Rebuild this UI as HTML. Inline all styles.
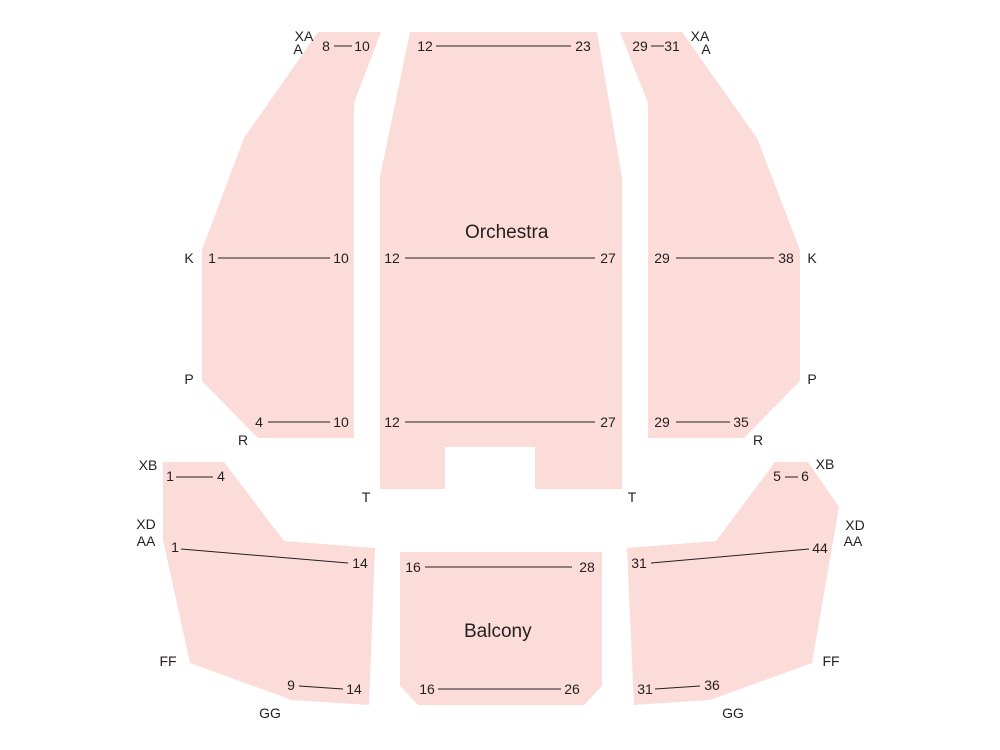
<!DOCTYPE html>
<html><head><meta charset="utf-8"><style>
html,body{margin:0;padding:0;background:#fff;}
svg{display:block;}
text{font-family:"Liberation Sans",sans-serif;font-size:14px;fill:#231f20;}
.big{font-size:19px;}
</style></head><body>
<svg width="1000" height="750" viewBox="0 0 1000 750" xmlns="http://www.w3.org/2000/svg">
<g fill="#fcdcd8">
<polygon points="318,32 381,32 354,103 354,438 258,438 202,381 202,250 244,138"/>
<polygon points="410,32 597,32 622,177 622,489 535,489 535,447 445,447 445,489 380,489 380,177"/>
<polygon points="620,32 682,32 757,138 800,250 800,381 744,438 648,438 648,103"/>
<polygon points="163,462 224,462 284,541 375,548 369,705 292,700 190,663 163,540"/>
<polygon points="627,548 716,541 775,462 808,462 839,507 812,663 710,700 634,705"/>
<polygon points="400,552 602,552 602,686 584,705 418,705 400,686"/>
</g>
<g stroke="#231f20" stroke-width="1">
<line x1="334" y1="46" x2="352" y2="46"/>
<line x1="436" y1="46" x2="571" y2="46"/>
<line x1="651" y1="46" x2="664" y2="46"/>
<line x1="218" y1="258" x2="330" y2="258"/>
<line x1="405" y1="258" x2="595" y2="258"/>
<line x1="676" y1="258" x2="774" y2="258"/>
<line x1="268" y1="422" x2="330" y2="422"/>
<line x1="405" y1="422" x2="595" y2="422"/>
<line x1="676" y1="422" x2="730" y2="422"/>
<line x1="176" y1="477" x2="213" y2="477"/>
<line x1="785" y1="477" x2="798" y2="477"/>
<line x1="181" y1="549" x2="348" y2="563"/>
<line x1="651" y1="563" x2="809" y2="549"/>
<line x1="425" y1="567" x2="572" y2="567"/>
<line x1="438" y1="689" x2="561" y2="689"/>
<line x1="299" y1="686" x2="343" y2="689"/>
<line x1="655" y1="689" x2="700" y2="686"/>
</g>
<text x="465" y="238" class="big" x="456">Orchestra</text>
<text x="464" y="637" class="big">Balcony</text>
<g text-anchor="middle">
<text x="304" y="41">XA</text><text x="298" y="54">A</text>
<text x="326" y="51">8</text><text x="362" y="51">10</text>
<text x="425" y="51">12</text><text x="583" y="51">23</text>
<text x="640" y="51">29</text><text x="672" y="51">31</text>
<text x="700" y="41">XA</text><text x="706" y="54">A</text>
<text x="189" y="263">K</text><text x="212" y="263">1</text><text x="341" y="263">10</text>
<text x="392" y="263">12</text><text x="608" y="263">27</text>
<text x="662" y="263">29</text><text x="786" y="263">38</text><text x="812" y="263">K</text>
<text x="189" y="384">P</text><text x="812" y="384">P</text>
<text x="259" y="427">4</text><text x="341" y="427">10</text>
<text x="392" y="427">12</text><text x="608" y="427">27</text>
<text x="662" y="427">29</text><text x="741" y="427">35</text>
<text x="243" y="445">R</text><text x="758" y="445">R</text>
<text x="366" y="502">T</text><text x="632" y="502">T</text>
<text x="148" y="470">XB</text><text x="825" y="469">XB</text>
<text x="170" y="481">1</text><text x="221" y="481">4</text>
<text x="777" y="481">5</text><text x="805" y="481">6</text>
<text x="146" y="529">XD</text><text x="146" y="546">AA</text>
<text x="855" y="530">XD</text><text x="853" y="546">AA</text>
<text x="175" y="552">1</text><text x="360" y="568">14</text>
<text x="639" y="568">31</text><text x="820" y="553">44</text>
<text x="413" y="572">16</text><text x="587" y="572">28</text>
<text x="168" y="666">FF</text><text x="831" y="666">FF</text>
<text x="291" y="690">9</text><text x="354" y="694">14</text>
<text x="645" y="694">31</text><text x="712" y="690">36</text>
<text x="427" y="694">16</text><text x="572" y="694">26</text>
<text x="270" y="718">GG</text><text x="733" y="718">GG</text>
</g>
</svg>
</body></html>
